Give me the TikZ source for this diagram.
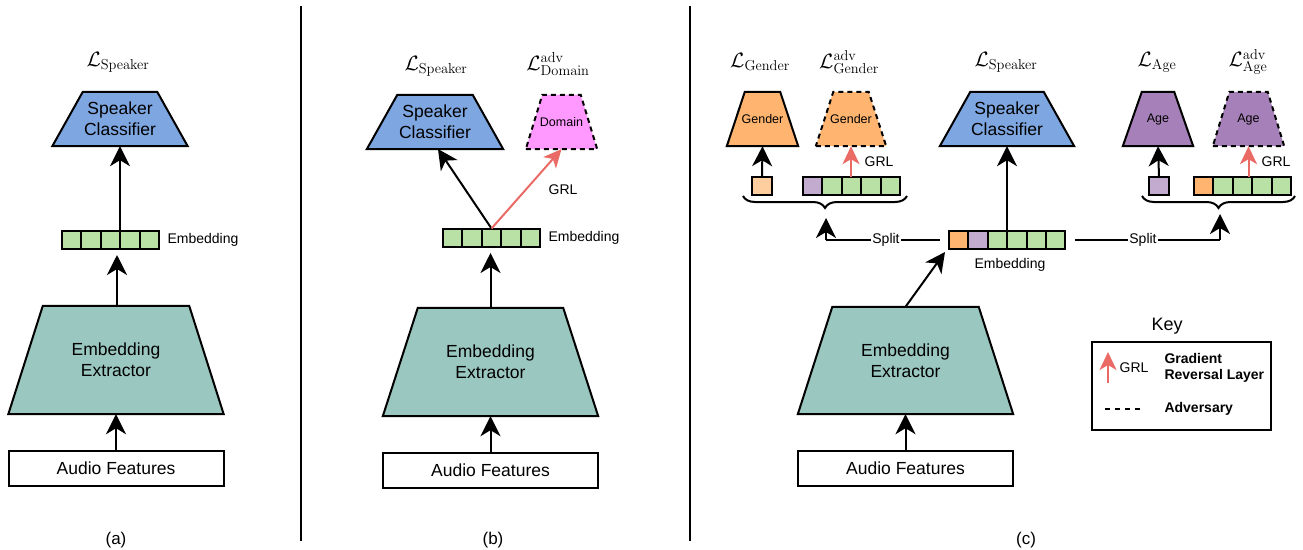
\documentclass[tikz,border=0pt]{standalone}
\usepackage[no-math]{fontspec}
\setmainfont{Liberation Sans}
\usetikzlibrary{arrows.meta,decorations.pathreplacing,calc}
\definecolor{cblue}{HTML}{7EA6E0}
\definecolor{cteal}{HTML}{9AC7BF}
\definecolor{cgreen}{HTML}{B9E0A5}
\definecolor{corange}{HTML}{FFB570}
\definecolor{cpurple}{HTML}{A680B8}
\definecolor{clpurple}{HTML}{C3ABD0}
\definecolor{clorange}{HTML}{FFCE9F}
\definecolor{cpink}{HTML}{FF99FF}
\definecolor{cred}{HTML}{EA6B66}
\tikzset{
  trapbox/.style={rectangle, inner sep=0pt, draw=none},
  solidtrap/.style={draw=black, line width=2pt, line join=miter},
  advtrap/.style={draw=black, line width=2pt, dash pattern=on 5pt off 4pt},
  bigtxt/.style={font=\fontsize{17.5}{21}\selectfont, align=center},
  smalltxt/.style={font=\fontsize{12.5}{15}\selectfont},
  lbltxt/.style={font=\fontsize{14}{17}\selectfont},
  losstxt/.style={font=\fontsize{20}{24}\selectfont},
  cell/.style={draw=black, line width=2pt, minimum width=19.4pt, minimum height=18pt, inner sep=0pt, outer sep=0pt},
  arr/.style={line width=2pt, -{Stealth[length=20pt,width=20pt,inset=6pt]}},
  grl/.style={line width=2pt, draw=cred, fill=cred, -{Stealth[length=18pt,width=17pt,inset=5pt]}},
  inbox/.style={draw=black, line width=2pt, minimum width=215pt, minimum height=35pt, inner sep=0pt, font=\fontsize{17.5}{21}\selectfont},
}
% name, cx, cy, bottomW, topW, h, style+fill, text style, text
\newcommand\mytrap[9]{%
  \node[trapbox, minimum width=#4pt, minimum height=#6pt] (#1) at (#2,#3) {};
  \draw[#7] (#1.south west) -- (#1.south east) -- ($(#1.north east)+({-(#4-#5)/2},0)$) -- ($(#1.north west)+({(#4-#5)/2},0)$) -- cycle;
  \node[#8] (#1-t) at (#1.center) {#9};
}
% prefix, x-left, y-center, list of colours
\newcommand\myvec[4]{%
  \foreach \c [count=\i] in {#4} {
    \node[cell, fill=\c] (#1\i) at ({#2+9.7+19.4*(\i-1)},#3) {};
  }
}
\begin{document}
\begin{tikzpicture}[x=1pt,y=-1pt]
\useasboundingbox (0,0) rectangle (1303,549);
% separators
\draw[line width=2pt] (301,6) -- (301,541);
\draw[line width=2pt] (690,6) -- (690,541);
% ---------------- panel (a)
\node[losstxt] (la) at (118,62) {$\mathcal{L}_{\mathrm{Speaker}}$};
\mytrap{sca}{120}{119}{135}{74}{54}{solidtrap, fill=cblue}{bigtxt}{Speaker\\Classifier}
\myvec{ea}{62}{239.5}{cgreen,cgreen,cgreen,cgreen,cgreen}
\node[lbltxt, anchor=west] (eal) at (164,239.5) {Embedding};
\mytrap{exa}{116}{360}{215}{146}{108}{solidtrap, fill=cteal}{bigtxt}{Embedding\\Extractor}
\node[inbox] (afa) at (116,468) {Audio Features};
\draw[arr] (afa.north) -- (exa.south);
\coordinate (ina) at (117,255);
\draw[arr] (exa.north -| ina) -- (ina);
\draw[arr] (sca.south |- ea3.north) -- (sca.south);
\node[font=\fontsize{17}{20}\selectfont] (capa) at (116,540) {(a)};
% ---------------- panel (b)
\node[losstxt] (lb) at (436,66) {$\mathcal{L}_{\mathrm{Speaker}}$};
\node[losstxt] (ldb) at (558,64) {$\mathcal{L}^{\mathrm{adv}}_{\mathrm{Domain}}$};
\mytrap{scb}{435}{122}{136}{75}{54}{solidtrap, fill=cblue}{bigtxt}{Speaker\\Classifier}
\mytrap{dmb}{561.5}{122}{71}{38}{54}{advtrap, fill=cpink}{smalltxt}{Domain}
\myvec{eb}{443}{237.5}{cgreen,cgreen,cgreen,cgreen,cgreen}
\node[lbltxt, anchor=west] (ebl) at (545,237.5) {Embedding};
\mytrap{exb}{490.5}{362}{215}{145}{108}{solidtrap, fill=cteal}{bigtxt}{Embedding\\Extractor}
\node[inbox] (afb) at (490.5,470) {Audio Features};
\draw[arr] (afb.north) -- (exb.south);
\coordinate (inb) at (490.5,253);
\draw[arr] (exb.north) -- (inb);
\coordinate (scbin) at (438,149);
\draw[arr] (eb3.north) -- (scbin);
\draw[grl] (eb3.north) -- (dmb.south);
\node[lbltxt] (grlb) at (563,190) {GRL};
\node[font=\fontsize{17}{20}\selectfont] (capb) at (493,540) {(b)};
% ---------------- panel (c)
\node[losstxt] (lgc) at (760,62) {$\mathcal{L}_{\mathrm{Gender}}$};
\node[losstxt] (lagc) at (849,62) {$\mathcal{L}^{\mathrm{adv}}_{\mathrm{Gender}}$};
\node[losstxt] (lsc) at (1006,62) {$\mathcal{L}_{\mathrm{Speaker}}$};
\node[losstxt] (lac) at (1157,62) {$\mathcal{L}_{\mathrm{Age}}$};
\node[losstxt] (laac) at (1248,62) {$\mathcal{L}^{\mathrm{adv}}_{\mathrm{Age}}$};
\mytrap{gc}{762.5}{119}{71}{35}{54}{solidtrap, fill=corange}{smalltxt}{Gender}
\mytrap{agc}{851}{119}{70}{35}{54}{advtrap, fill=corange}{smalltxt}{Gender}
\mytrap{scc}{1007}{119}{134}{73}{54}{solidtrap, fill=cblue}{bigtxt}{Speaker\\Classifier}
\mytrap{ac}{1158}{119}{70}{32}{54}{solidtrap, fill=cpurple}{smalltxt}{Age}
\mytrap{aac}{1248.5}{119}{71}{38}{54}{advtrap, fill=cpurple}{smalltxt}{Age}
% small vectors
\node[cell, fill=clorange] (gv) at (762,185.5) {};
\myvec{gav}{803}{185.5}{clpurple,cgreen,cgreen,cgreen,cgreen}
\node[cell, fill=clpurple] (av) at (1159,185.5) {};
\myvec{aav}{1194}{185.5}{corange,cgreen,cgreen,cgreen,cgreen}
\draw[arr] (gv.north) -- (gc.south);
\draw[grl] (agc.south |- gav3.north) -- (agc.south);
\node[lbltxt] (grlg) at (879,162) {GRL};
\draw[arr] (av.north) -- (ac.south);
\draw[grl] (aac.south |- aav4.north) -- (aac.south);
\node[lbltxt] (grla) at (1276,162) {GRL};
% braces
\coordinate (bgl) at (743,196);
\coordinate (bgr) at (907,196);
\coordinate (bal) at (1142,196);
\coordinate (bar) at (1295,196);
\draw[line width=2pt, decorate, decoration={brace, mirror, amplitude=12pt}] (bgl) -- (bgr);
\draw[line width=2pt, decorate, decoration={brace, mirror, amplitude=12pt}] (bal) -- (bar);
\coordinate (btg) at (826,218);
\coordinate (bta) at (1220,214);
% main embedding
\myvec{ec}{949}{239.5}{corange,clpurple,cgreen,cgreen,cgreen,cgreen}
\node[lbltxt] (ecl) at (1010,265) {Embedding};
\draw[arr] (scc.south |- ec4.north) -- (scc.south);
\draw[line width=2pt, shorten <=9pt] (ec1.west) -- (ec1.west -| btg) coordinate (spg);
\draw[arr] (spg) -- (btg);
\node[lbltxt, fill=white, inner sep=1pt] (splg) at (886,239.5) {Split};
\draw[line width=2pt, shorten <=10pt] (ec6.east) -- (ec6.east -| bta) coordinate (spa);
\draw[arr] (spa) -- (bta);
\node[lbltxt, fill=white, inner sep=1pt] (spla) at (1143,239.5) {Split};
\mytrap{exc}{905.5}{360.5}{215}{146}{107}{solidtrap, fill=cteal}{bigtxt}{Embedding\\Extractor}
\node[inbox] (afc) at (905.5,468.5) {Audio Features};
\draw[arr] (afc.north) -- (exc.south);
\coordinate (ecin) at (945,252);
\draw[arr] (exc.north) -- (ecin);
\node[font=\fontsize{17}{20}\selectfont] (capc) at (1026,540) {(c)};
% ---------------- key
\node[font=\fontsize{18}{22}\selectfont] (keyt) at (1167,326) {Key};
\node[draw=black, line width=2pt, minimum width=179pt, minimum height=88pt, inner sep=0pt] (keyb) at (1181.5,386) {};
\coordinate (kg1) at (1108,383);
\coordinate (kg2) at (1108,352);
\draw[grl] (kg1) -- (kg2);
\node[lbltxt] (kgrl) at (1134,368) {GRL};
\node[font=\bfseries\fontsize{14}{16}\selectfont, align=left, anchor=west] (kgt) at (1161,368) {Gradient\\Reversal Layer};
\coordinate (kd1) at (1105,409);
\coordinate (kd2) at (1143,409);
\draw[line width=2pt, dash pattern=on 5pt off 5pt] (kd1) -- (kd2);
\node[font=\bfseries\fontsize{14}{16}\selectfont, anchor=west] (kat) at (1161,409) {Adversary};
\end{tikzpicture}
\end{document}
